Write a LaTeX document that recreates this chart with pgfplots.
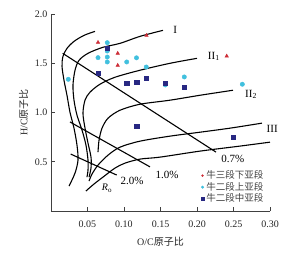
\documentclass[border=0pt]{standalone}
\usepackage{pgfplots}
\pgfplotsset{compat=1.18}
\usepackage{fontspec}
\setmainfont{Liberation Serif}
\newfontfamily\cjk{Noto Sans CJK SC}
\definecolor{tri}{RGB}{205,45,55}
\definecolor{cyn}{RGB}{65,192,222}
\definecolor{nvy}{RGB}{40,40,130}
\begin{document}
\begin{tikzpicture}[x=1pt,y=1pt]
\useasboundingbox (-51,-44) rectangle (238,211);
\begin{axis}[
  at={(0,0)}, anchor=south west,
  scale only axis, width=219pt, height=197pt,
  xmin=0, xmax=0.30, ymin=0, ymax=2.0,
  axis x line=bottom, axis y line=left,
  axis line style={-, black!75, line width=0.8pt},
  xtick={0.05,0.10,0.15,0.20,0.25,0.30},
  ytick={0.5,1.0,1.5,2.0},
  xticklabel style={yshift=-6pt,/pgf/number format/.cd,fixed,fixed zerofill,precision=2},
  yticklabel style={/pgf/number format/.cd,fixed,fixed zerofill,precision=1},
  /pgf/number format/assume math mode=true,
  tick style={black!75, line width=0.8pt},
  major tick length=4pt,
  tick align=inside,
  ticklabel style={font=\fontsize{10}{12}\selectfont, text=black!85},
  xlabel={O/C{\cjk 原子比}},
  ylabel={H/C{\cjk 原子比}},
  xlabel style={yshift=-3pt},
  label style={font=\fontsize{10}{12}\selectfont, text=black!85},
  clip=false,
  legend style={draw=none, fill=none, at={(axis cs:0.205,0.43)}, anchor=north west,
    font=\fontsize{9.5}{10}\selectfont, row sep=-2pt, inner sep=0pt, text=black!75},
  legend cell align=left,
]
% curves
\addplot[black, line width=1.1pt, smooth, forget plot] coordinates {
(0.0603,1.824)(0.0452,1.783)(0.0315,1.722)(0.0219,1.651)(0.0164,1.570)(0.0151,1.469)(0.0178,1.327)(0.0219,1.175)(0.0260,1.003)(0.0315,0.841)(0.0356,0.669)(0.0370,0.517)(0.0329,0.385)(0.0247,0.253)};
\addplot[black, line width=1.1pt, smooth, forget plot] coordinates {
(0.1534,1.834)(0.1219,1.773)(0.0945,1.702)(0.0712,1.662)(0.0507,1.601)(0.0384,1.530)(0.0329,1.429)(0.0301,1.277)(0.0315,1.125)(0.0356,0.973)(0.0425,0.821)(0.0479,0.669)(0.0507,0.517)(0.0507,0.416)(0.0493,0.344)};
\addplot[black, line width=1.1pt, smooth, forget plot] coordinates {
(0.2,1.550)(0.163,1.4995)(0.1219,1.429)(0.0877,1.358)(0.0671,1.287)(0.0534,1.206)(0.0466,1.125)(0.0438,0.993)(0.0466,0.841)(0.0507,0.689)(0.0548,0.547)(0.0548,0.436)(0.0521,0.344)};
\addplot[black, line width=1.1pt, smooth, forget plot] coordinates {
(0.2493,1.226)(0.2041,1.175)(0.1630,1.125)(0.1219,1.084)(0.0945,1.023)(0.0781,0.942)(0.0699,0.841)(0.0658,0.719)(0.0644,0.598)};
\addplot[black, line width=1.1pt, smooth, forget plot] coordinates {
(0.289,0.892)(0.2452,0.841)(0.2041,0.800)(0.163,0.760)(0.1219,0.709)(0.0945,0.648)(0.0781,0.567)(0.0644,0.466)(0.0562,0.375)(0.0521,0.304)};
\addplot[black, line width=1.1pt, smooth, forget plot] coordinates {
(0.3,0.699)(0.2589,0.659)(0.2041,0.608)(0.1493,0.547)(0.1219,0.527)(0.1014,0.486)(0.0877,0.436)(0.0712,0.344)(0.0589,0.274)(0.0479,0.203)};
% iso-reflectance lines
\addplot[black, line width=1.1pt, forget plot] coordinates {(0.0160,1.601)(0.2260,0.598)};
\addplot[black, line width=1.1pt, forget plot] coordinates {(0.0260,0.904)(0.1356,0.448)};
\addplot[black, line width=1.1pt, forget plot] coordinates {(0.0270,0.578)(0.0900,0.365)};
% data
\addplot[only marks, mark=triangle*, mark size=2.0pt, color=tri,
  legend image post style={mark=*, mark size=1.0pt}] coordinates {
(0.0644,1.712)(0.0914,1.601)(0.0914,1.479)(0.1308,1.783)(0.2407,1.573)};
\addlegendentry{{\cjk 牛三段下亚段}}
\addplot[only marks, mark=*, mark size=2.2pt, color=cyn,
  legend image post style={mark size=1.3pt}] coordinates {
(0.0771,1.709)(0.0771,1.624)(0.0771,1.563)(0.0771,1.513)(0.0644,1.557)(0.1037,1.513)(0.1171,1.555)(0.1305,1.462)(0.0237,1.337)(0.1826,1.361)(0.2621,1.287)(0.1566,1.28)};
\addlegendentry{{\cjk 牛二段上亚段}}
\addplot[only marks, mark=square*, mark size=2.1pt, color=nvy,
  legend image post style={mark size=1.7pt}] coordinates {
(0.0771,1.656)(0.0644,1.395)(0.1037,1.30)(0.1174,1.31)(0.1301,1.351)(0.1566,1.30)(0.1826,1.26)(0.1174,0.864)(0.2497,0.747)};
\addlegendentry{{\cjk 牛二段中亚段}}
% labels
\node[font=\fontsize{11}{12}\selectfont] at (axis cs:0.170,1.834) {I};
\node[font=\fontsize{11}{12}\selectfont] at (axis cs:0.223,1.569) {II\textsubscript{1}};
\node[font=\fontsize{11}{12}\selectfont] at (axis cs:0.274,1.185) {II\textsubscript{2}};
\node[font=\fontsize{11}{12}\selectfont] at (axis cs:0.303,0.831) {III};
\node[font=\fontsize{11}{12}\selectfont] at (axis cs:0.249,0.527) {0.7\%};
\node[font=\fontsize{11}{12}\selectfont] at (axis cs:0.159,0.365) {1.0\%};
\node[font=\fontsize{11}{12}\selectfont] at (axis cs:0.111,0.304) {2.0\%};
\node[font=\fontsize{10}{12}\selectfont] at (axis cs:0.0767,0.233) {\textit{R}\textsubscript{o}};
\end{axis}
\end{tikzpicture}
\end{document}
